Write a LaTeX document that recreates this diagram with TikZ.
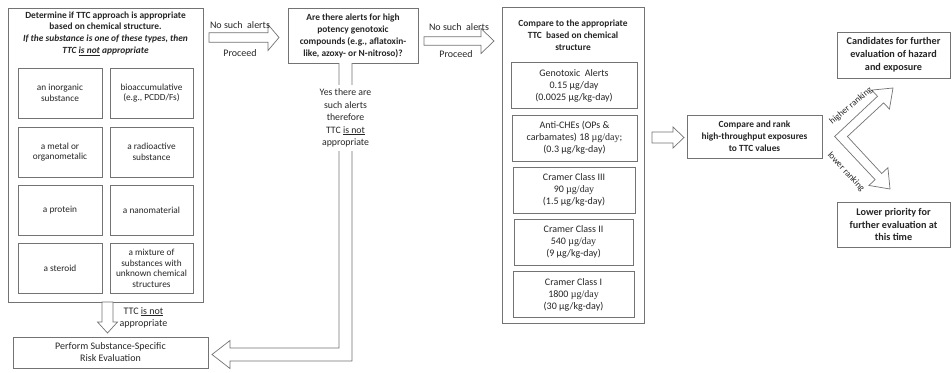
\documentclass[tikz,border=0pt]{standalone}
\usepackage{fontspec}
\setmainfont{Carlito}
\newfontfamily\ugFont{Liberation Serif}
\usetikzlibrary{calc}
\newcommand{\ugday}{{\ugFont µg/day}}
% hollow block arrow: from, to, half shaft, half head, head length
\newcommand{\hollowArrow}[5]{%
  \path (#1) coordinate (ha-s) (#2) coordinate (ha-e);
  \path ($(ha-e)!#5!(ha-s)$) coordinate (ha-b);
  \draw[hollow] ($(ha-s)!#3!90:(ha-e)$) -- ($(ha-b)!#3!-90:(ha-s)$)
    -- ($(ha-b)!#4!-90:(ha-s)$) -- (ha-e) -- ($(ha-b)!#4!90:(ha-s)$)
    -- ($(ha-b)!#3!90:(ha-s)$) -- ($(ha-s)!#3!-90:(ha-e)$) -- cycle;
}
\tikzset{
  box/.style = {draw=black!55, line width=0.7pt, fill=white, align=center,
    text=black!85, inner sep=0pt},
  hollow/.style = {draw=black!55, line width=0.7pt, fill=white},
  note/.style = {align=center, text=black!85, inner sep=0pt},
  small/.style = {font=\fontsize{9.3}{10.6}\selectfont},
  mid/.style = {font=\fontsize{10}{12}\selectfont},
  head/.style = {font=\bfseries\fontsize{9.4}{12}\selectfont},
}

\begin{document}
\begin{tikzpicture}[x=1pt,y=-1pt]
  \useasboundingbox (0,0) rectangle (952,372);

  % left block: is TTC appropriate at all
  \node[box, minimum width=195pt, minimum height=294pt] (det) at (105.5,155) {};
  \node[note, font=\bfseries\fontsize{9.4}{11.7}\selectfont] (detHead) at (105.5,33.5)
    {Determine if TTC approach is appropriate\\based on chemical structure.\\
     \textit{If the substance is one of these types, then}\\
     \textit{TTC \underline{is not} appropriate}};
  \node[box, small, minimum width=84pt, minimum height=50pt] (inorg) at (60,93) {an inorganic\\substance};
  \node[box, small, minimum width=83pt, minimum height=50pt] (bioacc) at (151.5,93) {bioaccumulative\\(e.g., PCDD/Fs)};
  \node[box, small, minimum width=84pt, minimum height=50pt] (metal) at (60,152) {a metal or\\organometalic};
  \node[box, small, minimum width=83pt, minimum height=50pt] (radio) at (151.5,152) {a radioactive\\substance};
  \node[box, small, minimum width=84pt, minimum height=50pt] (protein) at (60,210) {a protein};
  \node[box, small, minimum width=83pt, minimum height=50pt] (nano) at (151.5,210) {a nanomaterial};
  \node[box, small, minimum width=84pt, minimum height=50pt] (steroid) at (60,268.5) {a steroid};
  \node[box, small, minimum width=83pt, minimum height=50pt] (mixture) at (151.5,268.5)
    {a mixture of\\substances with\\unknown chemical\\structures};

  \node[box, mid, minimum width=195pt, minimum height=31pt] (perform) at (110.5,352.5)
    {Perform Substance-Specific\\Risk Evaluation};

  % genotoxic alerts question
  \node[box, head, minimum width=130pt, minimum height=55pt] (qst) at (353,35.5)
    {Are there alerts for high\\potency genotoxic\\compounds (e.g., aflatoxin-\\like, azoxy- or N-nitroso)?};

  % TTC values
  \node[box, minimum width=142pt, minimum height=316pt] (tox) at (573,165) {};
  \node[note, head] (toxHead) at (573,35) {Compare to the appropriate\\TTC\ \ based on chemical\\structure};
  \node[box, mid, minimum width=126pt, minimum height=46pt] (geno) at (574,85.5)
    {Genotoxic\ \ Alerts\\0.15 µg/day\\(0.0025 µg/kg-day)};
  \node[box, mid, minimum width=125pt, minimum height=46pt] (antiche) at (574.5,138)
    {Anti-CHEs (OPs \&\\carbamates) 18 \ugday;\\(0.3 µg/kg-day)};
  \node[box, mid, minimum width=122pt, minimum height=46pt] (cramer3) at (574,190)
    {Cramer Class III\\90 \ugday\\(1.5 µg/kg-day)};
  \node[box, mid, minimum width=119pt, minimum height=46pt] (cramer2) at (573.5,242)
    {Cramer Class II\\540 \ugday\\(9 µg/kg-day)};
  \node[box, mid, minimum width=121pt, minimum height=46pt] (cramer1) at (573.5,294.5)
    {Cramer Class I\\1800 \ugday\\(30 µg/kg-day)};

  % ranking
  \node[box, head, minimum width=135pt, minimum height=43pt] (rank) at (754.5,136.5)
    {Compare and rank\\high-throughput exposures\\to TTC values};
  \node[box, font=\bfseries\fontsize{10.2}{12.8}\selectfont, minimum width=113pt, minimum height=46pt] (cand) at (893.5,55)
    {Candidates for further\\evaluation of hazard\\and exposure};
  \node[box, font=\bfseries\fontsize{10.2}{12.6}\selectfont, minimum width=113pt, minimum height=45pt] (lowp) at (893.5,224.5)
    {Lower priority for\\further evaluation at\\this time};

  % block arrows
  \coordinate (a1s) at (209,37.5);   \coordinate (a1e) at (279,37.5);
  \coordinate (a2s) at (424,41);     \coordinate (a2e) at (494,41);
  \coordinate (a3s) at (652,137.5);  \coordinate (a3e) at (684,137.5);
  \coordinate (dns) at (107.5,302);  \coordinate (dne) at (107.5,333);
  \hollowArrow{a1s}{a1e}{4.7pt}{13pt}{11pt}
  \hollowArrow{a2s}{a2e}{4.3pt}{12.5pt}{13pt}
  \hollowArrow{a3s}{a3e}{5.5pt}{10.5pt}{11pt}
  \hollowArrow{dns}{dne}{5.5pt}{10pt}{11pt}

  \node[note, mid] (a1top) at (240,25) {No such\ \ alerts};
  \node[note, mid] (a1bot) at (240,53) {Proceed};
  \node[note, mid] (a2top) at (459,27.5) {No such\ \ alerts};
  \node[note, mid] (a2bot) at (456,54) {Proceed};
  \node[note, mid] (dnlab) at (143.5,317.5) {TTC \underline{is not}\\appropriate};

  % yes branch back to substance-specific evaluation
  \draw[hollow] (339,63) -- (339,348) -- (230,348) -- (230,340.5) -- (212,354.5)
    -- (230,368.5) -- (230,361) -- (352,361) -- (352,63);
  \node[note, mid, fill=white, font=\fontsize{9.8}{12.5}\selectfont, inner xsep=2pt, inner ysep=4pt] (yes) at (345.5,118)
    {Yes there are\\such alerts\\therefore\\TTC \underline{is not}\\appropriate};

  % split into higher / lower ranking
  \coordinate (cv) at (841,136.5);
  \coordinate (hiTip) at (893,88);
  \coordinate (loTip) at (890,189);
  \path ($(hiTip)!17pt!(cv)$) coordinate (hiB) ($(loTip)!17pt!(cv)$) coordinate (loB);
  \draw[hollow] ($(cv)+(-6.4,0)$) -- ($(hiB)!4.5pt!-90:(cv)$) -- ($(hiB)!13pt!-90:(cv)$)
    -- (hiTip) -- ($(hiB)!13pt!90:(cv)$) -- ($(hiB)!4.5pt!90:(cv)$)
    -- ($(cv)+(6.4,0)$) -- ($(loB)!4.5pt!-90:(cv)$) -- ($(loB)!13pt!-90:(cv)$)
    -- (loTip) -- ($(loB)!13pt!90:(cv)$) -- ($(loB)!4.5pt!90:(cv)$) -- cycle;
  \node[note, rotate=40, font=\fontsize{9}{10}\selectfont] (hiLab) at (851,106) {higher ranking};
  \node[note, rotate=-47, font=\fontsize{9}{10}\selectfont] (loLab) at (846,172) {lower ranking};
\end{tikzpicture}
\end{document}
